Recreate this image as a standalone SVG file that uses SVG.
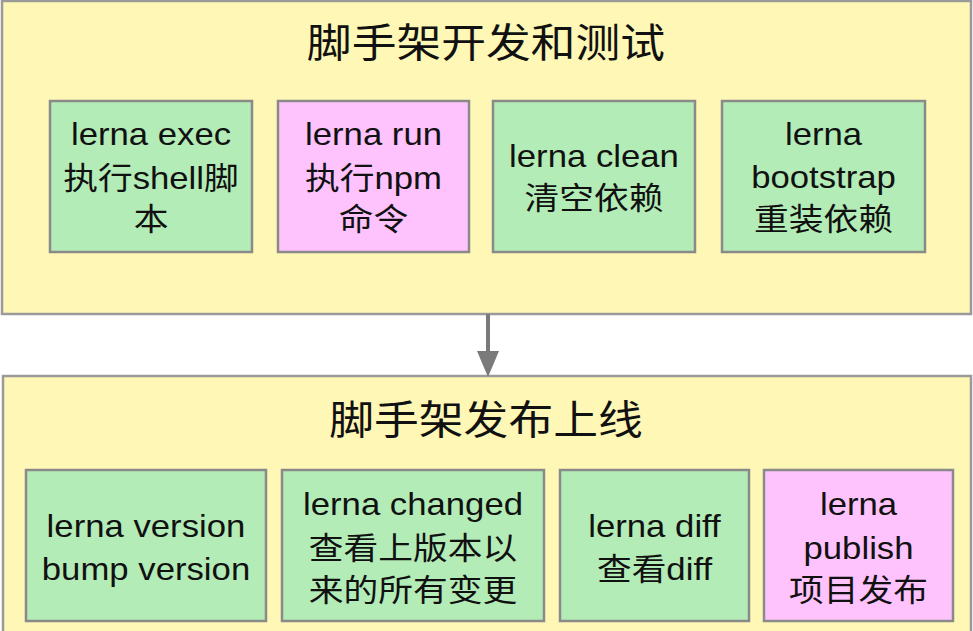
<svg xmlns="http://www.w3.org/2000/svg" width="973" height="631" viewBox="0 0 973 631">
<defs>
<style>
.bg{fill:#ffffff}
.cont{fill:#fef7b5;stroke:#9a9a9a;stroke-width:2.5}
.g{fill:#b3ecb7;stroke:#8a8a8a;stroke-width:2.5}
.p{fill:#fec3fd;stroke:#8a8a8a;stroke-width:2.5}
.t{font-family:"Liberation Sans","Noto Sans CJK SC",sans-serif;font-size:31px;fill:#111;text-anchor:middle}
.h{font-family:"Liberation Sans","Noto Sans CJK SC",sans-serif;font-size:40px;fill:#111;text-anchor:middle}
.conn{stroke:#7a7a7a;stroke-width:4;fill:none}
</style>
</defs>
<rect class="bg" x="0" y="0" width="973" height="631"/>

<g id="group-dev">
<rect class="cont" x="2" y="1" width="969" height="313"/>
<text class="h" transform="translate(486,57) scale(1.12,1)">脚手架开发和测试</text>
</g>
<g id="group-release">
<rect class="cont" x="3" y="376" width="968" height="262"/>
<text class="h" transform="translate(486,434) scale(1.12,1)">脚手架发布上线</text>
</g>

<g id="connectors">
<line class="conn" x1="488" y1="314" x2="488" y2="353"/>
<polygon points="477,351 499,351 488,377" fill="#7a7a7a"/>
</g>

<g id="n-exec">
<rect class="g" x="50" y="101" width="202" height="151"/>
<text class="t" transform="translate(151,145) scale(1.12,1)">lerna exec</text>
<text class="t" transform="translate(151,189) scale(1.12,1)">执行shell脚</text>
<text class="t" transform="translate(151,230) scale(1.12,1)">本</text>
</g>
<g id="n-run">
<rect class="p" x="278" y="101" width="191" height="151"/>
<text class="t" transform="translate(373.5,145) scale(1.12,1)">lerna run</text>
<text class="t" transform="translate(373.5,189) scale(1.12,1)">执行npm</text>
<text class="t" transform="translate(373.5,230) scale(1.12,1)">命令</text>
</g>
<g id="n-clean">
<rect class="g" x="493" y="101" width="202" height="151"/>
<text class="t" transform="translate(594,167) scale(1.12,1)">lerna clean</text>
<text class="t" transform="translate(594,209) scale(1.12,1)">清空依赖</text>
</g>
<g id="n-bootstrap">
<rect class="g" x="722" y="101" width="203" height="151"/>
<text class="t" transform="translate(823.5,145) scale(1.12,1)">lerna</text>
<text class="t" transform="translate(823.5,188) scale(1.12,1)">bootstrap</text>
<text class="t" transform="translate(823.5,230) scale(1.12,1)">重装依赖</text>
</g>

<g id="n-version">
<rect class="g" x="26" y="470" width="240" height="151"/>
<text class="t" transform="translate(146,537) scale(1.12,1)">lerna version</text>
<text class="t" transform="translate(146,580) scale(1.12,1)">bump version</text>
</g>
<g id="n-changed">
<rect class="g" x="282" y="470" width="262" height="151"/>
<text class="t" transform="translate(413,515) scale(1.12,1)">lerna changed</text>
<text class="t" transform="translate(413,559) scale(1.12,1)">查看上版本以</text>
<text class="t" transform="translate(413,601) scale(1.12,1)">来的所有变更</text>
</g>
<g id="n-diff">
<rect class="g" x="560" y="470" width="189" height="151"/>
<text class="t" transform="translate(654.5,537) scale(1.12,1)">lerna diff</text>
<text class="t" transform="translate(654.5,580) scale(1.12,1)">查看diff</text>
</g>
<g id="n-publish">
<rect class="p" x="764" y="470" width="189" height="151"/>
<text class="t" transform="translate(858.5,515) scale(1.12,1)">lerna</text>
<text class="t" transform="translate(858.5,559) scale(1.12,1)">publish</text>
<text class="t" transform="translate(858.5,601) scale(1.12,1)">项目发布</text>
</g>
</svg>
